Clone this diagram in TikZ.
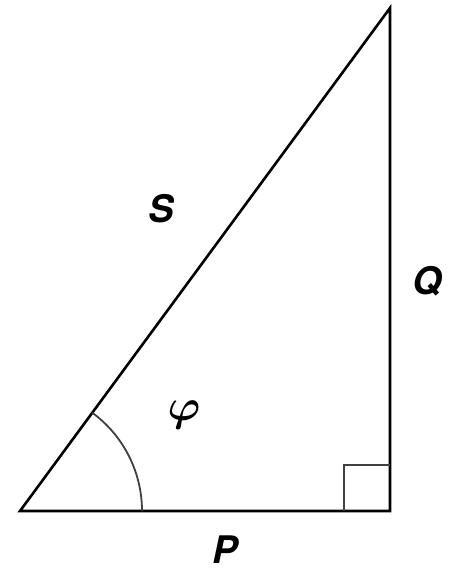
\documentclass[tikz,border=0pt]{standalone}
\usepackage{fontspec}
\usepackage{graphicx}
\setmainfont{TeX Gyre Heros}
\begin{document}
\begin{tikzpicture}[x=1pt,y=-1pt,
  edge/.style={line width=2.6pt, line cap=round, line join=miter},
  thin/.style={line width=1.8pt, draw=black!75},
  lbl/.style={font=\fontsize{38}{44}\selectfont\bfseries\itshape, inner sep=0pt}]
\useasboundingbox (0,0) rectangle (454,574);
\coordinate (A) at (20,511);
\coordinate (B) at (390,511);
\coordinate (C) at (390,8);
\draw[edge] (A) -- (B) -- (C) -- cycle;
\draw[thin] (344,511) -- (344,465) -- (390,465);
\draw[thin] (A) ++(122,0) arc[start angle=0, end angle=-53.7, radius=122];
\node[lbl] (s) at (161,209) {S};
\node[lbl] (q) at (427,281) {Q};
\node[lbl] (p) at (225,550) {P};
\node[inner sep=0pt] (phi) at (184,415) {\scalebox{4.4}{\boldmath$\varphi$}};
\end{tikzpicture}
\end{document}
